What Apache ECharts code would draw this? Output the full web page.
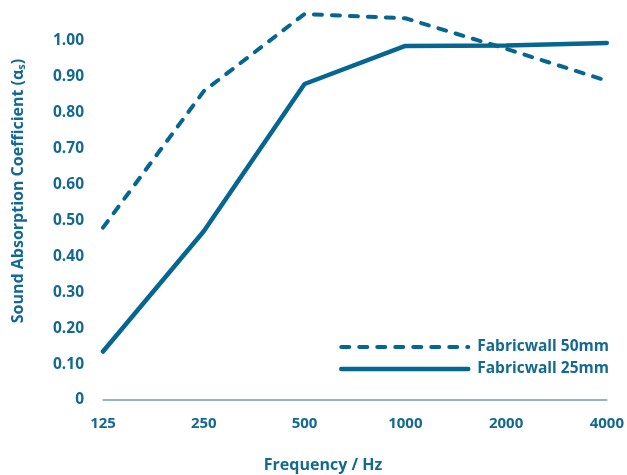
<!DOCTYPE html>
<html>
<head>
<meta charset="utf-8">
<script src="https://cdn.jsdelivr.net/npm/echarts@6/dist/echarts.min.js"></script>
<style>html,body{margin:0;padding:0;background:#fff;}#c{width:627px;height:475px;}</style>
</head>
<body>
<div id="c"></div>
<script>
var frequencies = ['125', '250', '500', '1000', '2000', '4000'];
var fabricwall50 = [0.48, 0.86, 1.075, 1.063, 0.978, 0.889];
var fabricwall25 = [0.135, 0.47, 0.88, 0.986, 0.987, 0.994];
var seriesNames = ['Fabricwall 50mm', 'Fabricwall 25mm'];

var lineColor = '#066692';
var textColor = '#136991';
var font = '"Open Sans", "Noto Sans", sans-serif';

var chart = echarts.init(document.getElementById('c'), null, {renderer: 'canvas'});
chart.setOption({
  animation: false,
  backgroundColor: '#fff',
  grid: {left: 103, right: 20, top: 5, bottom: 75, containLabel: false},
  legend: {
    orient: 'vertical',
    left: 334,
    top: 334,
    itemWidth: 127,
    itemHeight: 16,
    itemGap: 6,
    data: [
      {name: seriesNames[0], lineStyle: {width: 4, type: [8, 10], cap: 'round', color: lineColor}},
      {name: seriesNames[1], lineStyle: {width: 4.5, type: 'solid', cap: 'round', color: lineColor}}
    ],
    itemStyle: {opacity: 0, borderWidth: 0},
    textStyle: {color: textColor, fontFamily: font, fontWeight: 'bold', fontSize: 15.5, padding: [0, 0, 0, 4]}
  },
  xAxis: {
    type: 'category',
    data: frequencies,
    boundaryGap: false,
    axisLine: {show: true, lineStyle: {color: '#6f9dbb', width: 1.5}},
    axisTick: {show: false},
    splitLine: {show: false},
    axisLabel: {color: textColor, fontFamily: font, fontWeight: 'bold', fontSize: 15, margin: 16}
  },
  yAxis: {
    type: 'value',
    min: 0,
    max: 1.1,
    interval: 0.1,
    axisLine: {show: false},
    axisTick: {show: false},
    splitLine: {show: false},
    axisLabel: {
      color: textColor, fontFamily: font, fontWeight: 'bold', fontSize: 15.5, margin: 19,
      formatter: function (v) {
        if (v > 1.0001) return '';
        if (v === 0) return '0';
        return v.toFixed(2);
      }
    }
  },
  graphic: [
    {
      type: 'text',
      x: 18, y: 191,
      rotation: Math.PI / 2,
      style: {
        text: 'Sound Absorption Coefficient (α{s|s})',
        rich: {s: {fontSize: 11, fontWeight: 'bold', fill: textColor, fontFamily: font, padding: [7, 0, 0, 0]}},
        fill: textColor,
        font: 'bold 16px ' + font,
        align: 'center',
        verticalAlign: 'middle'
      }
    },
    {
      type: 'text',
      x: 323, y: 465,
      style: {
        text: 'Frequency / Hz',
        fill: textColor,
        font: 'bold 16px ' + font,
        align: 'center',
        verticalAlign: 'middle'
      }
    }
  ],
  series: [
    {
      name: seriesNames[0],
      type: 'line',
      data: fabricwall50,
      symbol: 'none',
      color: lineColor,
      lineStyle: {color: lineColor, width: 4, type: [8, 10], cap: 'round'}
    },
    {
      name: seriesNames[1],
      type: 'line',
      data: fabricwall25,
      symbol: 'none',
      color: lineColor,
      lineStyle: {color: lineColor, width: 4.5, type: 'solid', cap: 'round'}
    }
  ]
});
</script>
</body>
</html>
